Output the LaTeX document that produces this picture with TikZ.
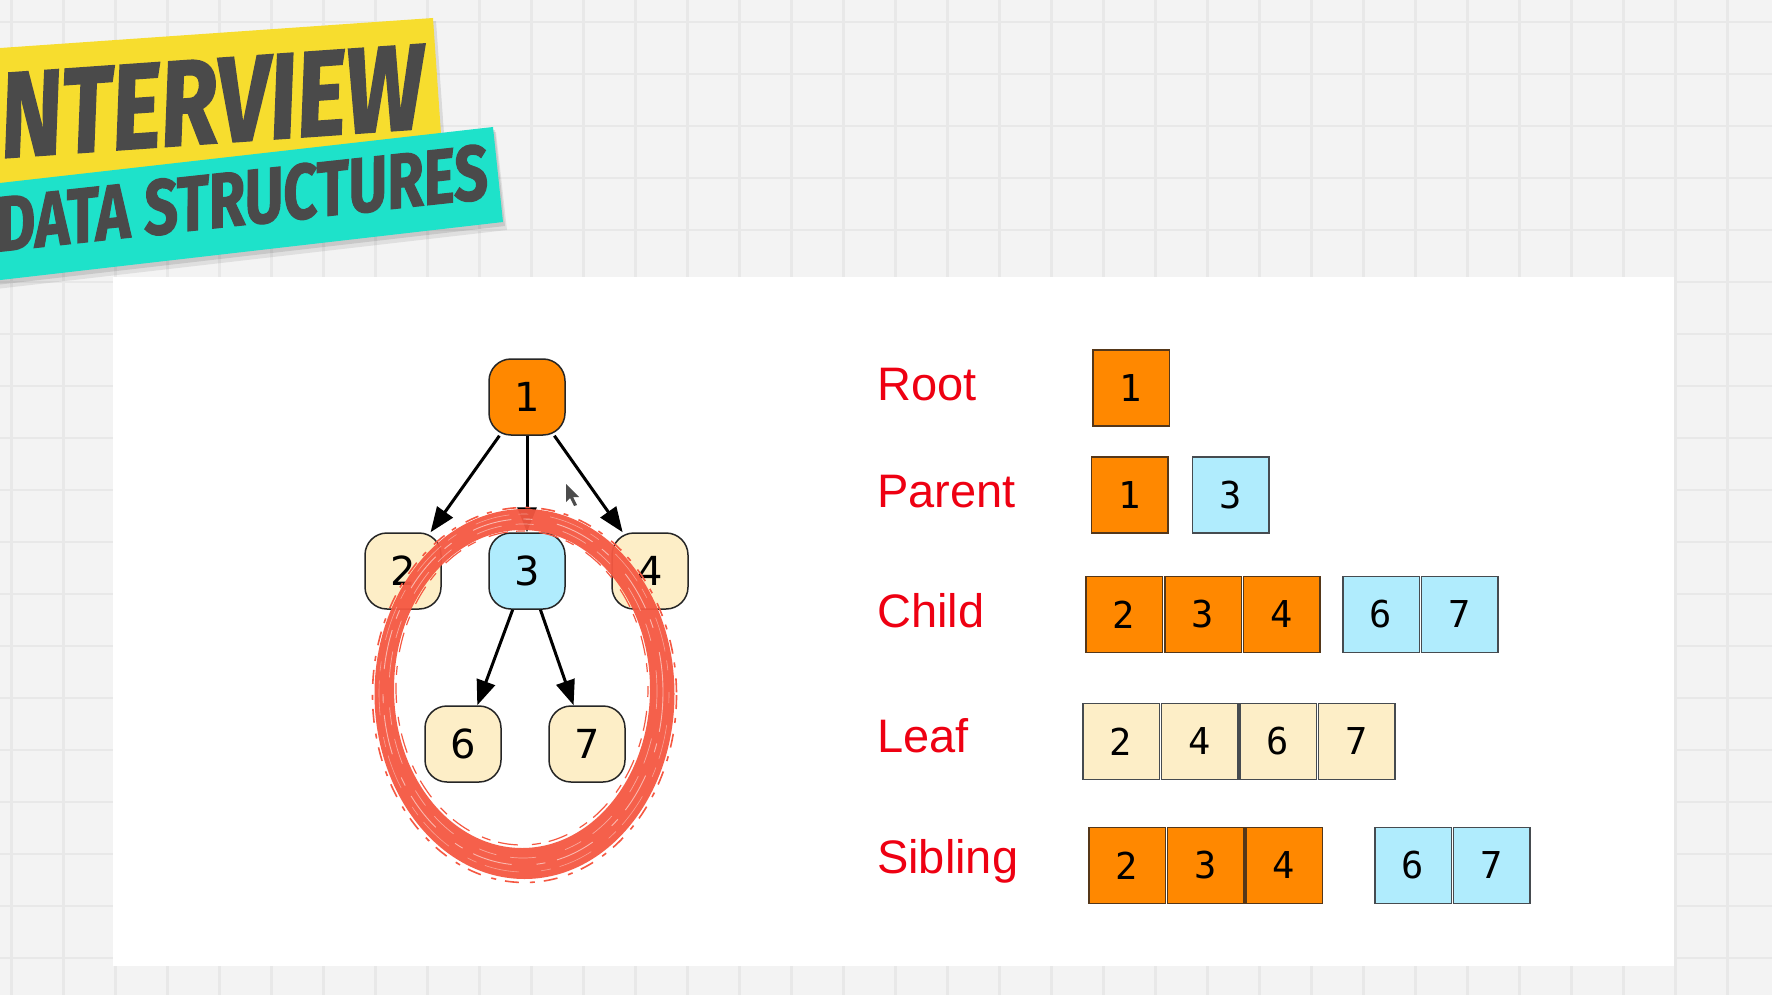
\documentclass[tikz,border=0pt]{standalone}
\usepackage{fontspec}
\setmainfont{Liberation Sans}
\newfontfamily\bannerfont{Fira Sans}[FakeBold=1.6]
\newfontfamily\treefont{DejaVu Sans}
\newfontfamily\boxfont{DejaVu Sans Mono}
\usetikzlibrary{arrows.meta}
\definecolor{bgc}{RGB}{243,243,243}
\definecolor{gridc}{RGB}{232,232,232}
\definecolor{bannery}{RGB}{247,221,46}
\definecolor{bannert}{RGB}{30,226,202}
\definecolor{bannertext}{RGB}{74,74,74}
\definecolor{orangec}{RGB}{255,136,0}
\definecolor{bluec}{RGB}{176,236,253}
\definecolor{creamc}{RGB}{253,238,199}
\definecolor{labelred}{RGB}{238,0,18}
\definecolor{brushred}{RGB}{245,88,66}
\definecolor{obord}{RGB}{85,55,25}
\definecolor{gbord}{RGB}{70,75,80}
\begin{document}
\begin{tikzpicture}[x=1pt,y=-1pt,
  treenode/.style={draw=black!85, line width=1.5pt, rounded corners=22pt,
    minimum width=76pt, minimum height=76pt, inner sep=0pt,
    font=\treefont\fontsize{40}{48}\selectfont},
  edge/.style={-{Triangle[length=25pt,width=19pt]}, line width=3pt},
  cell/.style={line width=1.5pt, minimum width=76.5pt, minimum height=76pt,
    inner sep=0pt, font=\boxfont\fontsize{37}{44}\selectfont},
  ocell/.style={cell, draw=obord, fill=orangec},
  bcell/.style={cell, draw=gbord, fill=bluec},
  ccell/.style={cell, draw=gbord, fill=creamc},
  lab/.style={text=labelred, inner sep=0pt, anchor=base west,
    font=\fontsize{47}{56}\selectfont},
  bannertxt/.style={text=bannertext, inner sep=0pt, anchor=south west,
    font=\bannerfont\bfseries\itshape}
]
\useasboundingbox (0,0) rectangle (1772,995);
\clip (0,0) rectangle (1772,995);
% background grid
\fill[bgc] (0,0) rectangle (1772,995);
\foreach \x in {11.5,63.5,...,1790} \draw[gridc, line width=2.5pt] (\x,0) -- (\x,995);
\foreach \y in {22,74,...,1010} \draw[gridc, line width=2.5pt] (0,\y) -- (1772,\y);
% white panel
\fill[white] (113,277) rectangle (1674,966);
% banner
\fill[black, opacity=0.10] (-30,53) -- (436,21) -- (448,190) -- (-18,222) -- cycle;
\fill[bannery] (-30,50.1) -- (433,18) -- (444.7,187.6) -- (-18.3,219.7) -- cycle;
\fill[black, opacity=0.08] (-30,192) -- (496,132) -- (507,230) -- (-30,292) -- cycle;
\fill[black, opacity=0.10] (-30,189) -- (495,130) -- (505,226) -- (-30,288) -- cycle;
\fill[bannert] (-30,186.4) -- (493,127) -- (503,222) -- (-30,283.5) -- cycle;
\node[bannertxt, rotate=4] (t1) at (3,158) {\resizebox{424pt}{84pt}{NTERVIEW}};
\node[bannertxt, rotate=6.2] (t2) at (-1,253) {\resizebox{494pt}{55pt}{DATA STRUCTURES}};
% tree
\node[treenode, fill=orangec] (n1) at (527,397) {1};
\node[treenode, fill=creamc] (n2) at (403,571) {2};
\node[treenode, fill=bluec] (n3) at (527,571) {3};
\node[treenode, fill=creamc] (n4) at (650,571) {4};
\node[treenode, fill=creamc] (n6) at (463,744) {6};
\node[treenode, fill=creamc] (n7) at (587,744) {7};
\draw[edge] (n1) -- (n2);
\draw[edge] (n1) -- (n3);
\draw[edge] (n1) -- (n4);
\draw[edge] (n3) -- (n6);
\draw[edge] (n3) -- (n7);
% brush ellipse
\fill[brushred, even odd rule, opacity=0.95] (524.5,694) ellipse [x radius=150, y radius=185]
   (522,689) ellipse [x radius=128, y radius=159];
\draw[white, opacity=0.55, line width=0.9pt, dash pattern=on 40pt off 12pt on 9pt off 25pt] (523,692) ellipse [x radius=140, y radius=173];
\draw[white, opacity=0.45, line width=0.7pt, dash pattern=on 18pt off 30pt on 26pt off 14pt] (523,691) ellipse [x radius=134, y radius=167];
\draw[white, opacity=0.4, line width=0.6pt, dash pattern=on 10pt off 22pt on 35pt off 9pt] (524,693) ellipse [x radius=145, y radius=179];
\draw[brushred, line width=1.6pt, dash pattern=on 14pt off 9pt on 5pt off 11pt] (524.5,695) ellipse [x radius=152, y radius=187.5];
\draw[brushred, line width=1.2pt, dash pattern=on 9pt off 14pt on 20pt off 8pt] (522,688) ellipse [x radius=126, y radius=157];
% cursor
\fill[black!70] (566,484) -- (566,502) -- (570,498) -- (574,506) -- (577,505) -- (573,497) -- (579,497) -- cycle;
% labels
\node[lab] (lroot) at (877,400) {Root};
\node[lab] (lparent) at (877,507) {Parent};
\node[lab] (lchild) at (877,627) {Child};
\node[lab] (lleaf) at (877,752) {Leaf};
\node[lab] (lsib) at (877,873) {Sibling};
% boxes
\node[ocell] (r1) at (1131,388) {1};
\node[ocell] (p1) at (1129.5,495) {1};
\node[bcell] (p3) at (1230.5,495) {3};
\node[ocell] (c2) at (1124,614.5) {2};
\node[ocell] (c3) at (1203,614.5) {3};
\node[ocell] (c4) at (1281.5,614.5) {4};
\node[bcell] (c6) at (1381,614.5) {6};
\node[bcell] (c7) at (1459.5,614.5) {7};
\node[ccell] (l2) at (1121,741.5) {2};
\node[ccell] (l4) at (1199.5,741.5) {4};
\node[ccell] (l6) at (1278,741.5) {6};
\node[ccell] (l7) at (1356.5,741.5) {7};
\node[ocell] (s2) at (1127,865.5) {2};
\node[ocell] (s3) at (1205.5,865.5) {3};
\node[ocell] (s4) at (1284,865.5) {4};
\node[bcell] (s6) at (1413,865.5) {6};
\node[bcell] (s7) at (1491.5,865.5) {7};
\end{tikzpicture}
\end{document}
